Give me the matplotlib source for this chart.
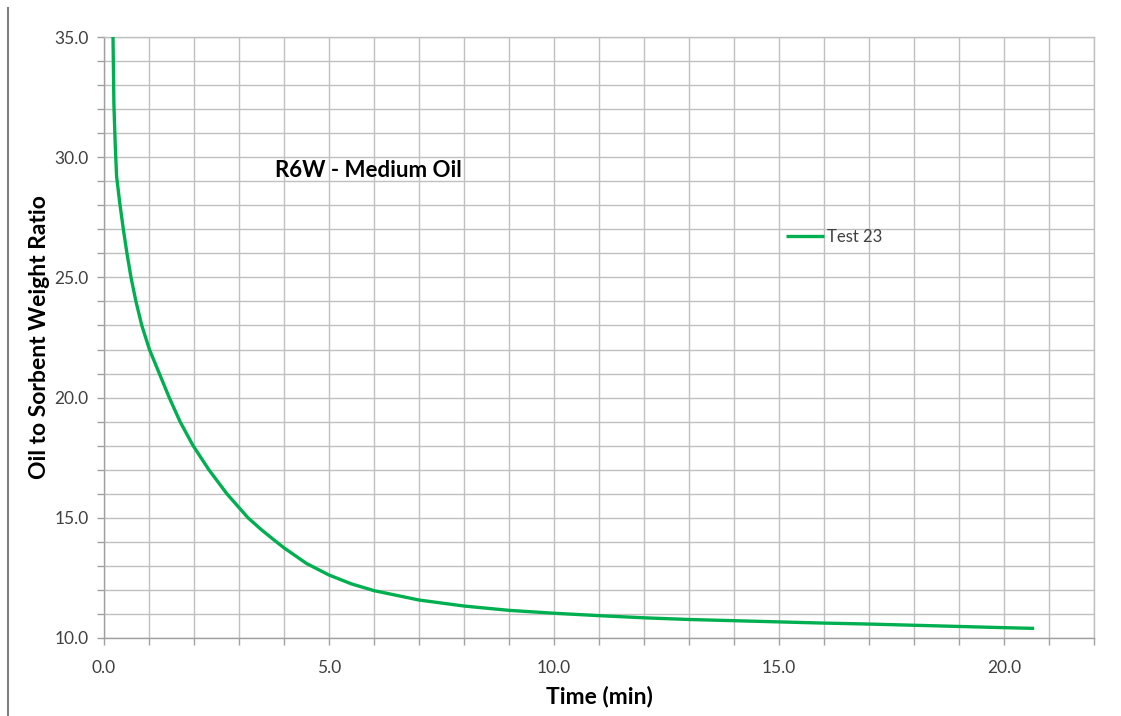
import matplotlib
matplotlib.use("Agg")
import matplotlib.pyplot as plt
from matplotlib.lines import Line2D
import numpy as np

plt.rcParams['font.family'] = ['Lato', 'DejaVu Sans']

# Data
time_min = [0.19, 0.20, 0.22, 0.25, 0.28, 0.35, 0.43, 0.51, 0.60, 0.71, 0.84, 1.01, 1.23,
            1.45, 1.69, 1.98, 2.33, 2.73, 3.2, 3.5, 3.75, 4.0, 4.5, 5.0, 5.5, 6.0, 7.0, 8.0, 9.0,
            10.0, 11.0, 12.0, 13.0, 14.0, 15.0, 16.0, 17.0, 18.0, 19.0, 20.0, 20.67]
ratio = [38.0, 35.0, 32.2, 30.5, 29.2, 28.1, 27.0, 26.0, 25.0, 24.0, 23.0, 22.0, 21.0,
         20.0, 19.0, 18.0, 17.0, 16.0, 15.0, 14.5, 14.12, 13.75, 13.1, 12.62, 12.25, 11.97, 11.58, 11.33, 11.15,
         11.03, 10.93, 10.84, 10.77, 10.72, 10.67, 10.62, 10.58, 10.53, 10.48, 10.43, 10.40]
series_name = "Test 23"
chart_title = "R6W - Medium Oil"

fig = plt.figure(figsize=(11.21, 7.16), dpi=100)
ax = fig.add_axes([104/1121, 78/716, 990/1121, 601/716])

grid_c = '#C0C0C0'
ax.plot(time_min, ratio, color='#00B050', lw=2.4, label=series_name, zorder=3,
        solid_capstyle='butt', solid_joinstyle='round')

ax.set_xlim(0, 22)
ax.set_ylim(10, 35)
ax.set_xticks(np.arange(0, 23, 1), minor=True)
ax.set_xticks(np.arange(0, 21, 5))
ax.set_yticks(np.arange(10, 36, 1), minor=True)
ax.set_yticks(np.arange(10, 36, 5))
ax.xaxis.set_major_formatter(matplotlib.ticker.FormatStrFormatter('%.1f'))
ax.yaxis.set_major_formatter(matplotlib.ticker.FormatStrFormatter('%.1f'))
ax.grid(True, which='both', color=grid_c, lw=1.0, zorder=0)
ax.set_axisbelow(True)

for side in ['top', 'right']:
    ax.spines[side].set_color(grid_c)
    ax.spines[side].set_linewidth(1.0)
for side in ['left', 'bottom']:
    ax.spines[side].set_color('#A0A0A0')
    ax.spines[side].set_linewidth(1.0)

ax.tick_params(which='both', direction='out', length=5, width=1, color='#A0A0A0',
               labelsize=12.5, labelcolor='#404040')
ax.tick_params(axis='x', which='major', pad=11)
ax.tick_params(axis='y', which='major', pad=6)

ax.set_xlabel('Time (min)', fontsize=16.5, fontweight='bold', labelpad=7)
ax.set_ylabel('Oil to Sorbent Weight Ratio', fontsize=16.5, fontweight='bold', labelpad=3)

ax.text(3.8, 29.45, chart_title, fontsize=16, fontweight='bold', va='center', ha='left',
        color='#000000')

leg = ax.legend(loc='center left', bbox_to_anchor=((786 - 104) / 990, (638 - 237) / 601),
                frameon=False, fontsize=12, handlelength=2.3, handletextpad=0.15,
                borderpad=0, borderaxespad=0)
for t in leg.get_texts():
    t.set_color('#404040')

fig.add_artist(Line2D([8/1121, 8/1121], [0, 1 - 8/716], color='#808080', lw=1.5,
                      transform=fig.transFigure))

fig.savefig('out.png', dpi=100)
